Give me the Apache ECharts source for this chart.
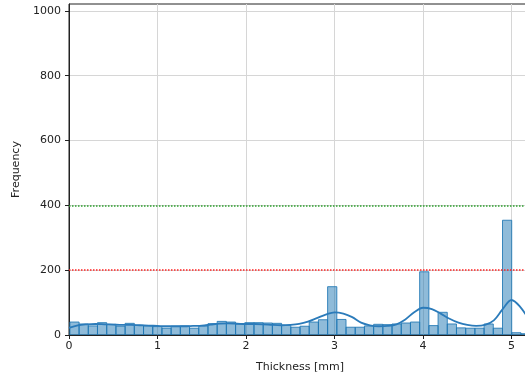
<!DOCTYPE html>
<html>
<head>
<meta charset="utf-8">
<script src="https://cdn.jsdelivr.net/npm/echarts@6/dist/echarts.min.js"></script>
<style>
html,body{margin:0;padding:0;background:#fff;}
#chart{width:525px;height:376px;}
</style>
</head>
<body>
<div id="chart"></div>
<script>
// Histogram bins (50 bins)
const binStart = 0.01;
const binWidth = 0.104;
const binCounts = [
  40, 34, 28, 38, 33, 27, 36, 30, 28, 26,
  21, 27, 28, 21, 28, 35, 42, 40, 33, 38,
  38, 37, 36, 30, 24, 27, 40, 47, 149, 48,
  24, 24, 28, 33, 32, 34, 37, 40, 195, 29,
  70, 34, 22, 21, 21, 34, 21, 354, 7, 4
];
// KDE curve (scaled to counts)
const kdeX = [0.0,0.1,0.2,0.3,0.4,0.5,0.6,0.7,0.8,0.9,1.0,1.1,1.2,1.3,1.4,1.5,1.6,1.7,1.8,1.9,2.0,2.1,2.2,2.3,2.4,2.5,2.6,2.7,2.8,2.9,3.0,3.1,3.2,3.3,3.4,3.5,3.6,3.7,3.8,3.9,4.0,4.1,4.2,4.3,4.4,4.5,4.6,4.7,4.8,4.9,5.0,5.1,5.2];
const kdeY = [22,30,33,34,33,32,31,31,30,29,28,27,27,27,28,29,32,35,36,35,34,34,33,31,30,31,34,41,52,63,70,66,55,38,30,27,28,33,48,70,84,80,66,50,38,31,28,31,45,80,108,86,45];
// Reference lines
const refLines = [
  {value: 400, color: '#2ca02c'},
  {value: 200, color: '#ff2222'}
];
const xTicks = [0, 1, 2, 3, 4, 5];
const yTicks = [0, 200, 400, 600, 800, 1000];

const binData = binCounts.map((c, i) => [binStart + i * binWidth, binStart + (i + 1) * binWidth, c]);
const kdeData = kdeX.map((x, i) => [x, kdeY[i]]);

const chart = echarts.init(document.getElementById('chart'), null, {renderer: 'canvas'});
const font = 'DejaVu Sans';
chart.setOption({
  animation: false,
  backgroundColor: '#fff',
  grid: {left: 69, width: 462, top: 4, bottom: 41, containLabel: false, outerBoundsMode: 'none',
    show: true, borderColor: '#222', borderWidth: 1, backgroundColor: 'transparent'},
  xAxis: {
    type: 'value', min: 0, max: 5.22, interval: 1,
    name: 'Thickness [mm]', nameLocation: 'middle', nameGap: 27,
    nameTextStyle: {fontFamily: font, fontSize: 11, color: '#222'},
    axisLine: {show: true, onZero: false, lineStyle: {color: '#222', width: 1}},
    axisTick: {show: true, length: 4, lineStyle: {color: '#222'}, customValues: xTicks},
    axisLabel: {fontFamily: font, fontSize: 11, color: '#222', margin: 6, customValues: xTicks, formatter: v => String(v)},
    splitLine: {show: true, lineStyle: {color: '#d6d6d6', width: 1}}
  },
  yAxis: {
    type: 'value', min: 0, max: 1021, interval: 200,
    name: 'Frequency', nameLocation: 'middle', nameGap: 44, nameRotate: 90,
    nameTextStyle: {fontFamily: font, fontSize: 11, color: '#222'},
    axisLine: {show: true, lineStyle: {color: '#222', width: 1}},
    axisTick: {show: true, length: 4, lineStyle: {color: '#222'}, customValues: yTicks},
    axisLabel: {fontFamily: font, fontSize: 11, color: '#222', margin: 8, customValues: yTicks,
      formatter: v => (yTicks.indexOf(v) >= 0 ? String(v) : '')},
    splitLine: {show: true, lineStyle: {color: '#d6d6d6', width: 1}}
  },
  series: [
    {
      type: 'custom',
      clip: true,
      z: 2,
      encode: {x: [0, 1], y: 2},
      data: binData,
      renderItem: function (params, api) {
        const p0 = api.coord([api.value(0), api.value(2)]);
        const p1 = api.coord([api.value(1), 0]);
        return {
          type: 'rect',
          shape: {x: p0[0], y: p0[1], width: p1[0] - p0[0], height: p1[1] - p0[1]},
          style: {fill: 'rgba(31,119,180,0.5)', stroke: 'rgba(31,119,180,0.85)', lineWidth: 1}
        };
      }
    },
    {
      type: 'line',
      data: kdeData,
      smooth: 0.35,
      showSymbol: false,
      clip: true,
      z: 3,
      lineStyle: {color: '#2b7bba', width: 1.8},
      markLine: {
        silent: true,
        symbol: ['none', 'none'],
        label: {show: false},
        data: refLines.map(r => ({yAxis: r.value, lineStyle: {color: r.color, type: 'dotted', width: 1.5}}))
      }
    }
  ]
});
</script>
</body>
</html>
